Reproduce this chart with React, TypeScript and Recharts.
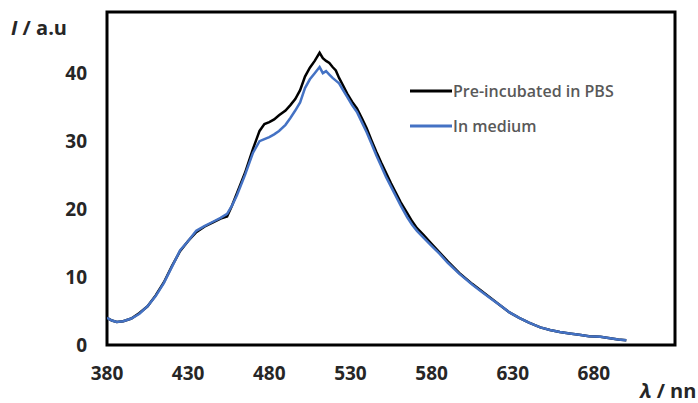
import { Line, LineChart, ReferenceArea, XAxis, YAxis } from "recharts";

// emission spectra
const wavelengths = [
  380, 383, 386, 390, 395, 400, 405, 410, 415, 420, 425, 430, 435, 440, 445, 450, 454, 457, 460,
  465, 470, 474, 477, 480, 483, 486, 490, 493, 496, 499, 502, 505, 508, 511, 513, 515, 517, 519,
  521, 523, 525, 528, 531, 534, 537, 540, 543, 546, 549, 552, 555, 558, 561, 565, 568, 571, 575,
  580, 585, 590, 597, 605, 610, 616, 622, 628, 634, 640, 647, 653, 659, 665, 671, 677, 684, 690,
  695, 700,
];
const pbs = [
  4.0, 3.6, 3.4, 3.5, 3.9, 4.7, 5.7, 7.3, 9.2, 11.6, 13.8, 15.3, 16.6, 17.4, 18.0, 18.6, 18.9, 20.5,
  22.3, 25.3, 28.9, 31.5, 32.5, 32.8, 33.2, 33.8, 34.5, 35.3, 36.2, 37.5, 39.5, 40.8, 41.8, 43.0,
  42.2, 41.8, 41.5, 40.9, 40.4, 39.3, 38.4, 37.0, 35.8, 34.8, 33.4, 31.9, 30.1, 28.4, 26.8, 25.3,
  23.8, 22.4, 21.0, 19.4, 18.2, 17.2, 16.2, 14.9, 13.6, 12.3, 10.6, 9.0, 8.1, 7.0, 5.9, 4.8, 4.0,
  3.3, 2.6, 2.2, 1.9, 1.7, 1.5, 1.3, 1.2, 1.0, 0.8, 0.7,
];
const medium = [
  4.0, 3.6, 3.4, 3.5, 3.9, 4.6, 5.7, 7.2, 9.1, 11.5, 13.9, 15.3, 16.8, 17.5, 18.1, 18.7, 19.3, 20.5,
  22.0, 25.0, 28.3, 30.0, 30.3, 30.6, 31.0, 31.5, 32.4, 33.4, 34.5, 35.7, 37.8, 39.1, 40.0, 40.9,
  40.0, 40.3, 39.8, 39.3, 38.9, 38.5, 37.7, 36.5, 35.3, 34.3, 32.8, 31.3, 29.6, 27.9, 26.3, 24.7,
  23.3, 21.9, 20.5, 18.8, 17.7, 16.8, 15.8, 14.6, 13.4, 12.1, 10.5, 8.9, 8.0, 6.9, 5.9, 4.8, 4.0,
  3.3, 2.6, 2.2, 1.9, 1.7, 1.5, 1.3, 1.2, 1.0, 0.8, 0.7,
];
const xTicks = [380, 430, 480, 530, 580, 630, 680];
const yTicks = [0, 10, 20, 30, 40];

const data = wavelengths.map((w, i) => ({ w, pbs: pbs[i], medium: medium[i] }));

const FONT = "'Open Sans', 'Noto Sans', sans-serif";
const tickStyle = { fontFamily: FONT, fontSize: 19, fontWeight: 700, fill: "#262626" };

const legendItems = [
  { label: "Pre-incubated in PBS", color: "#000000" },
  { label: "In medium", color: "#4472C4" },
];

function LegendBox() {
  return (
    <div style={{ position: "absolute", left: 410, top: 73, fontFamily: FONT }}>
      {legendItems.map((it) => (
        <div key={it.label} style={{ display: "flex", alignItems: "center", height: 35 }}>
          <svg width={42} height={6}>
            <line x1={0} y1={3} x2={42} y2={3} stroke={it.color} strokeWidth={3} />
          </svg>
          <span style={{ fontSize: 16, fontWeight: 600, color: "#595959", marginLeft: 1 }}>
            {it.label}
          </span>
        </div>
      ))}
    </div>
  );
}

export default function App() {
  return (
    <div
      style={{
        position: "absolute",
        left: 0,
        top: 0,
        width: 698,
        height: 403,
        overflow: "hidden",
        background: "#fff",
      }}
    >
      <LineChart
        width={698}
        height={403}
        data={data}
        margin={{ top: 12, right: 23, bottom: 0, left: 0 }}
      >
        <XAxis
          dataKey="w"
          type="number"
          domain={[380, 730]}
          ticks={xTicks}
          height={58}
          tickSize={0}
          tickMargin={22}
          tickLine={false}
          axisLine={false}
          tick={tickStyle}
          allowDataOverflow
        />
        <YAxis
          type="number"
          domain={[0, 49]}
          ticks={yTicks}
          width={107}
          tickSize={0}
          tickMargin={20}
          tickLine={false}
          axisLine={false}
          tick={tickStyle}
          allowDataOverflow
        />
        {/* plot frame */}
        <ReferenceArea
          x1={380}
          x2={730}
          y1={0}
          y2={49}
          fill="none"
          stroke="#000"
          strokeWidth={3}
          fillOpacity={0}
          strokeOpacity={1}
          ifOverflow="visible"
        />
        <Line
          type="linear"
          dataKey="pbs"
          stroke="#000000"
          strokeWidth={2.5}
          dot={false}
          isAnimationActive={false}
        />
        <Line
          type="linear"
          dataKey="medium"
          stroke="#4472C4"
          strokeWidth={2.5}
          dot={false}
          isAnimationActive={false}
        />
      </LineChart>
      <LegendBox />
      <div
        style={{
          position: "absolute",
          left: 11,
          top: 14,
          fontFamily: FONT,
          fontSize: 20,
          fontWeight: 700,
          color: "#262626",
          whiteSpace: "nowrap",
        }}
      >
        <i>I</i> / a.u
      </div>
      <div
        style={{
          position: "absolute",
          left: 640,
          top: 377,
          fontFamily: FONT,
          fontSize: 20,
          fontWeight: 700,
          color: "#262626",
          whiteSpace: "nowrap",
        }}
      >
        <i>λ</i> / nn
      </div>
    </div>
  );
}
